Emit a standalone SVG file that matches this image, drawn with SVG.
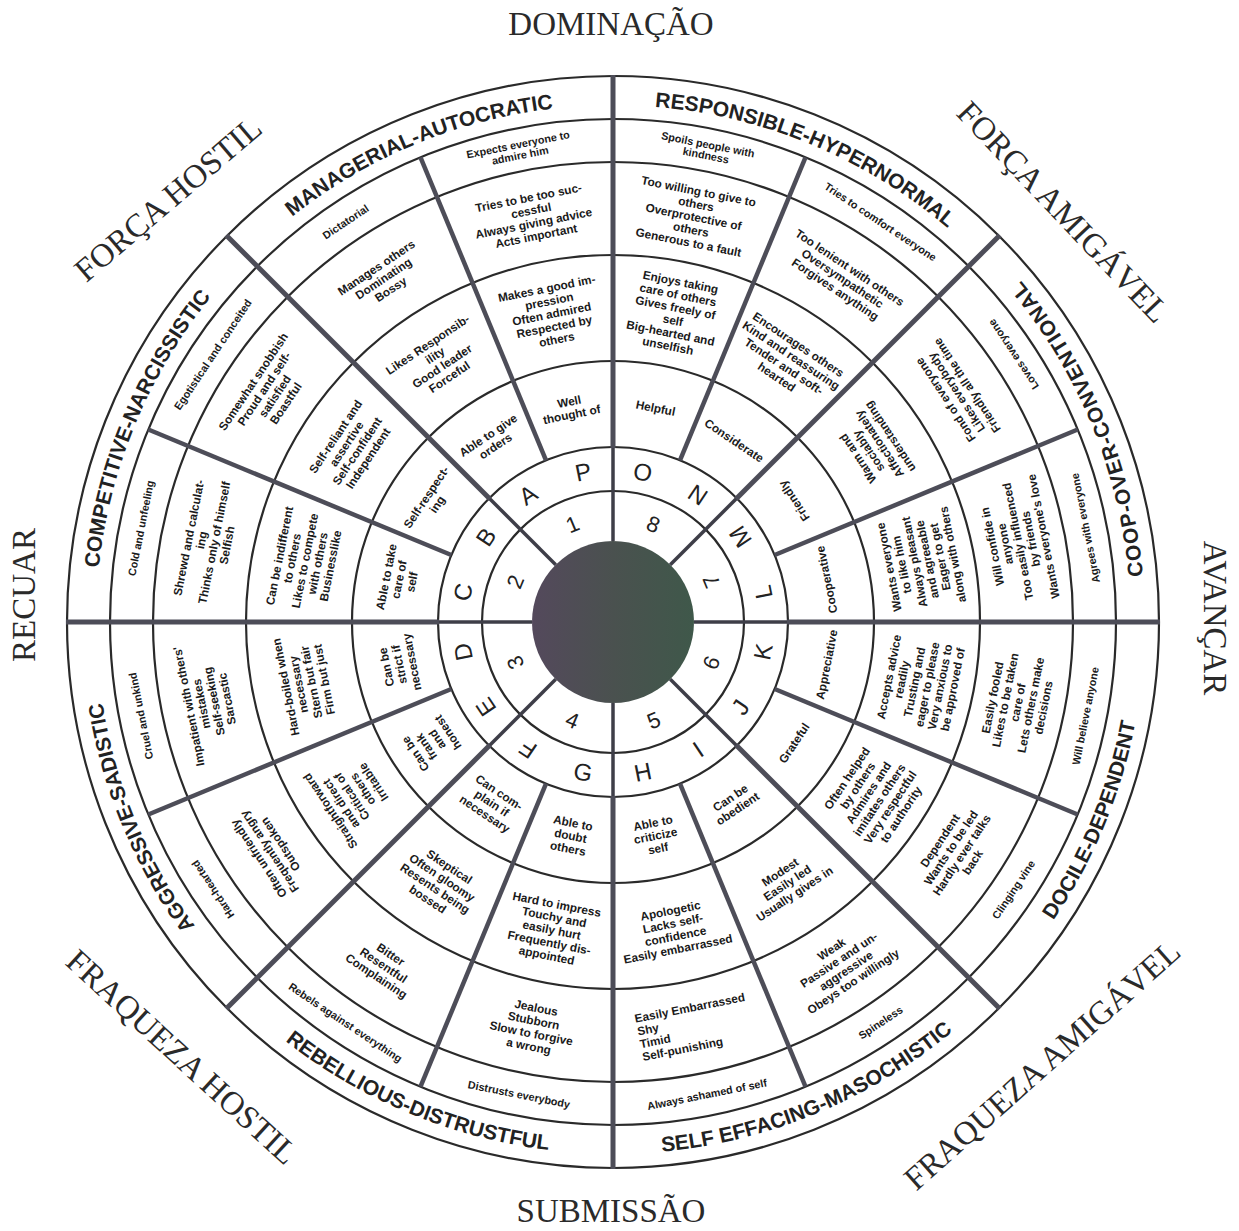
<svg xmlns="http://www.w3.org/2000/svg" xmlns:xlink="http://www.w3.org/1999/xlink" width="1239" height="1231" viewBox="0 0 1239 1231">
<style>
.ring{fill:none;stroke:#2a2a2a;stroke-width:2.2}
.oi{stroke:#3e3e48;stroke-width:3.5}
.oo{stroke:#4d4d58;stroke-width:5}
.sl{stroke:#4d4d58;stroke-width:4.5}
.t{font-family:"Liberation Sans",Arial,sans-serif;font-weight:bold;font-size:11.8px;fill:#1a1a1a;text-anchor:middle}
.t4{font-size:10.8px}
.L{font-family:"Liberation Sans",Arial,sans-serif;font-size:24px;fill:#222;text-anchor:middle}
.N{font-family:"Liberation Sans",Arial,sans-serif;font-size:22px;fill:#222;text-anchor:middle}
.oct{font-family:"Liberation Sans",Arial,sans-serif;font-weight:bold;font-size:21px;fill:#222}
.pt{font-family:"Liberation Serif","Times New Roman",serif;font-size:33px;fill:#2a2a2a;text-anchor:middle}
</style>
<defs>
<linearGradient id="dk" x1="0" y1="0" x2="1" y2="0">
<stop offset="0" stop-color="#54495c"/>
<stop offset="0.5" stop-color="#4a514f"/>
<stop offset="1" stop-color="#3f584a"/>
</linearGradient>
<path id="arcT" d="M165.3 363.5 A517 517 0 0 1 1060.7 363.5"/>
<path id="arcB" d="M152.3 888 A532 532 0 0 0 1073.7 888"/>
</defs>
<rect width="1239" height="1231" fill="#fff"/>

<g id="rings" transform="translate(613 622)">
<circle class="ring" r="546"/>
<circle class="ring" r="503"/>
<circle class="ring" r="460"/>
<circle class="ring" r="367"/>
<circle class="ring" r="261"/>
<circle class="ring" r="175" stroke-width="3"/>
<circle class="ring" r="131" stroke-width="2.5"/>
<circle r="81" fill="url(#dk)"/>
</g>

<g id="connectors" transform="translate(613 622)">
<line class="oi" y1="-81" y2="-175" transform="rotate(0)"/>
<line class="oi" y1="-81" y2="-175" transform="rotate(45)"/>
<line class="oi" y1="-81" y2="-175" transform="rotate(90)"/>
<line class="oi" y1="-81" y2="-175" transform="rotate(135)"/>
<line class="oi" y1="-81" y2="-175" transform="rotate(180)"/>
<line class="oi" y1="-81" y2="-175" transform="rotate(225)"/>
<line class="oi" y1="-81" y2="-175" transform="rotate(270)"/>
<line class="oi" y1="-81" y2="-175" transform="rotate(315)"/>
<line class="oo" y1="-174" y2="-547" transform="rotate(0)"/>
<line class="oo" y1="-174" y2="-547" transform="rotate(45)"/>
<line class="oo" y1="-174" y2="-547" transform="rotate(90)"/>
<line class="oo" y1="-174" y2="-547" transform="rotate(135)"/>
<line class="oo" y1="-174" y2="-547" transform="rotate(180)"/>
<line class="oo" y1="-174" y2="-547" transform="rotate(225)"/>
<line class="oo" y1="-174" y2="-547" transform="rotate(270)"/>
<line class="oo" y1="-174" y2="-547" transform="rotate(315)"/>
<line class="sl" y1="-175" y2="-503" transform="rotate(22.5)"/>
<line class="sl" y1="-175" y2="-503" transform="rotate(67.5)"/>
<line class="sl" y1="-175" y2="-503" transform="rotate(112.5)"/>
<line class="sl" y1="-175" y2="-503" transform="rotate(157.5)"/>
<line class="sl" y1="-175" y2="-503" transform="rotate(202.5)"/>
<line class="sl" y1="-175" y2="-503" transform="rotate(247.5)"/>
<line class="sl" y1="-175" y2="-503" transform="rotate(292.5)"/>
<line class="sl" y1="-175" y2="-503" transform="rotate(337.5)"/>
</g>

<g id="numbers" transform="translate(613 622)">
<g id="num-1" transform="rotate(-22.5) translate(0 -106)"><text class="N" y="8">1</text></g>
<g id="num-2" transform="rotate(-67.5) translate(0 -106)"><text class="N" y="8">2</text></g>
<g id="num-3" transform="rotate(-112.5) translate(0 -106)"><text class="N" y="8">3</text></g>
<g id="num-4" transform="rotate(22.5) translate(0 106)"><text class="N" y="8">4</text></g>
<g id="num-5" transform="rotate(-22.5) translate(0 106)"><text class="N" y="8">5</text></g>
<g id="num-6" transform="rotate(-67.5) translate(0 106)"><text class="N" y="8">6</text></g>
<g id="num-7" transform="rotate(-112.5) translate(0 106)"><text class="N" y="8">7</text></g>
<g id="num-8" transform="rotate(22.5) translate(0 -106)"><text class="N" y="8">8</text></g>
</g>

<g id="sectors" transform="translate(613 622)">
<g id="sector-A">
<g transform="rotate(-33.75) translate(0 -153)"><text class="L" y="8.5">A</text></g>
<g transform="rotate(-33.75) translate(0 -218)"><text class="t"><tspan x="0" y="-2.5">Able to give</tspan><tspan x="0" y="10.5">orders</tspan></text></g>
<g transform="rotate(-33.75) translate(0 -314)"><text class="t"><tspan x="0" y="-15.5">Likes Responsib-</tspan><tspan x="0" y="-2.5">ility</tspan><tspan x="0" y="10.5">Good leader</tspan><tspan x="0" y="23.5">Forceful</tspan></text></g>
<g transform="rotate(-33.75) translate(0 -413)"><text class="t"><tspan x="0" y="-9">Manages others</tspan><tspan x="0" y="4">Dominating</tspan><tspan x="0" y="17">Bossy</tspan></text></g>
<g transform="rotate(-33.75) translate(0 -481.5)"><text class="t t4" y="4">Dictatorial</text></g>
</g>
<g id="sector-P">
<g transform="rotate(-11.25) translate(0 -153)"><text class="L" y="8.5">P</text></g>
<g transform="rotate(-11.25) translate(0 -218)"><text class="t"><tspan x="0" y="-2.5">Well</tspan><tspan x="0" y="10.5">thought of</tspan></text></g>
<g transform="rotate(-11.25) translate(0 -314)"><text class="t"><tspan x="0" y="-22">Makes a good im-</tspan><tspan x="0" y="-9">pression</tspan><tspan x="0" y="4">Often admired</tspan><tspan x="0" y="17">Respected by</tspan><tspan x="0" y="30">others</tspan></text></g>
<g transform="rotate(-11.25) translate(0 -413)"><text class="t"><tspan x="0" y="-15.5">Tries to be too suc-</tspan><tspan x="0" y="-2.5">cessful</tspan><tspan x="0" y="10.5">Always giving advice</tspan><tspan x="0" y="23.5">Acts important</tspan></text></g>
<g transform="rotate(-11.25) translate(0 -481.5)"><text class="t t4"><tspan x="0" y="-1.5">Expects everyone to</tspan><tspan x="0" y="9.5">admire him</tspan></text></g>
</g>
<g id="sector-O">
<g transform="rotate(11.25) translate(0 -153)"><text class="L" y="8.5">O</text></g>
<g transform="rotate(11.25) translate(0 -218)"><text class="t" y="4">Helpful</text></g>
<g transform="rotate(11.25) translate(0 -314)"><text class="t"><tspan x="0" y="-28.5">Enjoys taking</tspan><tspan x="0" y="-15.5">care of others</tspan><tspan x="0" y="-2.5">Gives freely of</tspan><tspan x="0" y="10.5">self</tspan><tspan x="0" y="23.5">Big-hearted and</tspan><tspan x="0" y="36.5">unselfish</tspan></text></g>
<g transform="rotate(11.25) translate(0 -413)"><text class="t"><tspan x="0" y="-22">Too willing to give to</tspan><tspan x="0" y="-9">others</tspan><tspan x="0" y="4">Overprotective of</tspan><tspan x="0" y="17">others</tspan><tspan x="0" y="30">Generous to a fault</tspan></text></g>
<g transform="rotate(11.25) translate(0 -481.5)"><text class="t t4"><tspan x="0" y="-1.5">Spoils people with</tspan><tspan x="0" y="9.5">kindness</tspan></text></g>
</g>
<g id="sector-N">
<g transform="rotate(33.75) translate(0 -153)"><text class="L" y="8.5">N</text></g>
<g transform="rotate(33.75) translate(0 -218)"><text class="t" y="4">Considerate</text></g>
<g transform="rotate(33.75) translate(0 -314)"><text class="t"><tspan x="0" y="-15.5">Encourages others</tspan><tspan x="0" y="-2.5">Kind and reassuring</tspan><tspan x="0" y="10.5">Tender and soft-</tspan><tspan x="0" y="23.5">hearted</tspan></text></g>
<g transform="rotate(33.75) translate(0 -413)"><text class="t"><tspan x="0" y="-9">Too lenient with others</tspan><tspan x="0" y="4">Oversympathetic</tspan><tspan x="0" y="17">Forgives anything</tspan></text></g>
<g transform="rotate(33.75) translate(0 -481.5)"><text class="t t4" y="4">Tries to comfort everyone</text></g>
</g>
<g id="sector-M">
<g transform="rotate(-123.75) translate(0 153)"><text class="L" y="8.5">M</text></g>
<g transform="rotate(-123.75) translate(0 218)"><text class="t" y="4">Friendly</text></g>
<g transform="rotate(-123.75) translate(0 314)"><text class="t"><tspan x="0" y="-15.5">Warm and</tspan><tspan x="0" y="-2.5">sociably</tspan><tspan x="0" y="10.5">Affectionately</tspan><tspan x="0" y="23.5">understanding</tspan></text></g>
<g transform="rotate(-123.75) translate(0 413)"><text class="t"><tspan x="0" y="-9">Fond of everyone</tspan><tspan x="0" y="4">Likes everybody</tspan><tspan x="0" y="17">Friendly all the time</tspan></text></g>
<g transform="rotate(-123.75) translate(0 481.5)"><text class="t t4" y="4">Loves everyone</text></g>
</g>
<g id="sector-L">
<g transform="rotate(-101.25) translate(0 153)"><text class="L" y="8.5">L</text></g>
<g transform="rotate(-101.25) translate(0 218)"><text class="t" y="4">Cooperative</text></g>
<g transform="rotate(-101.25) translate(0 314)"><text class="t"><tspan x="0" y="-28.5">Wants everyone</tspan><tspan x="0" y="-15.5">to like him</tspan><tspan x="0" y="-2.5">Always pleasant</tspan><tspan x="0" y="10.5">and agreeable</tspan><tspan x="0" y="23.5">Eager to get</tspan><tspan x="0" y="36.5">along with others</tspan></text></g>
<g transform="rotate(-101.25) translate(0 413)"><text class="t"><tspan x="0" y="-22">Will confide in</tspan><tspan x="0" y="-9">anyone</tspan><tspan x="0" y="4">Too easily influenced</tspan><tspan x="0" y="17">by friends</tspan><tspan x="0" y="30">Wants everyone's love</tspan></text></g>
<g transform="rotate(-101.25) translate(0 481.5)"><text class="t t4" y="4">Agrees with everyone</text></g>
</g>
<g id="sector-K">
<g transform="rotate(-78.75) translate(0 153)"><text class="L" y="8.5">K</text></g>
<g transform="rotate(-78.75) translate(0 218)"><text class="t" y="4">Appreciative</text></g>
<g transform="rotate(-78.75) translate(0 314)"><text class="t"><tspan x="0" y="-28.5">Accepts advice</tspan><tspan x="0" y="-15.5">readily</tspan><tspan x="0" y="-2.5">Trusting and</tspan><tspan x="0" y="10.5">eager to please</tspan><tspan x="0" y="23.5">Very anxious to</tspan><tspan x="0" y="36.5">be approved of</tspan></text></g>
<g transform="rotate(-78.75) translate(0 413)"><text class="t"><tspan x="0" y="-22">Easily fooled</tspan><tspan x="0" y="-9">Likes to be taken</tspan><tspan x="0" y="4">care of</tspan><tspan x="0" y="17">Lets others make</tspan><tspan x="0" y="30">decisions</tspan></text></g>
<g transform="rotate(-78.75) translate(0 481.5)"><text class="t t4" y="4">Will believe anyone</text></g>
</g>
<g id="sector-J">
<g transform="rotate(-56.25) translate(0 153)"><text class="L" y="8.5">J</text></g>
<g transform="rotate(-56.25) translate(0 218)"><text class="t" y="4">Grateful</text></g>
<g transform="rotate(-56.25) translate(0 314)"><text class="t"><tspan x="0" y="-28.5">Often helped</tspan><tspan x="0" y="-15.5">by others</tspan><tspan x="0" y="-2.5">Admires and</tspan><tspan x="0" y="10.5">imitates others</tspan><tspan x="0" y="23.5">Very respectful</tspan><tspan x="0" y="36.5">to authority</tspan></text></g>
<g transform="rotate(-56.25) translate(0 413)"><text class="t"><tspan x="0" y="-15.5">Dependent</tspan><tspan x="0" y="-2.5">Wants to be led</tspan><tspan x="0" y="10.5">Hardly ever talks</tspan><tspan x="0" y="23.5">back</tspan></text></g>
<g transform="rotate(-56.25) translate(0 481.5)"><text class="t t4" y="4">Clinging vine</text></g>
</g>
<g id="sector-I">
<g transform="rotate(-33.75) translate(0 153)"><text class="L" y="8.5">I</text></g>
<g transform="rotate(-33.75) translate(0 218)"><text class="t"><tspan x="0" y="-2.5">Can be</tspan><tspan x="0" y="10.5">obedient</tspan></text></g>
<g transform="rotate(-33.75) translate(0 314)"><text class="t"><tspan x="0" y="-9">Modest</tspan><tspan x="0" y="4">Easily led</tspan><tspan x="0" y="17">Usually gives in</tspan></text></g>
<g transform="rotate(-33.75) translate(0 413)"><text class="t"><tspan x="0" y="-15.5">Weak</tspan><tspan x="0" y="-2.5">Passive and un-</tspan><tspan x="0" y="10.5">aggressive</tspan><tspan x="0" y="23.5">Obeys too willingly</tspan></text></g>
<g transform="rotate(-33.75) translate(0 481.5)"><text class="t t4" y="4">Spineless</text></g>
</g>
<g id="sector-H">
<g transform="rotate(-11.25) translate(0 153)"><text class="L" y="8.5">H</text></g>
<g transform="rotate(-11.25) translate(0 218)"><text class="t"><tspan x="0" y="-9">Able to</tspan><tspan x="0" y="4">criticize</tspan><tspan x="0" y="17">self</tspan></text></g>
<g transform="rotate(-11.25) translate(0 314)"><text class="t"><tspan x="0" y="-15.5">Apologetic</tspan><tspan x="0" y="-2.5">Lacks self-</tspan><tspan x="0" y="10.5">confidence</tspan><tspan x="0" y="23.5">Easily embarrassed</tspan></text></g>
<g transform="rotate(-11.25) translate(0 413)"><text class="t" style="text-anchor:start"><tspan x="-56" y="-15.5">Easily Embarrassed</tspan><tspan x="-56" y="-2.5">Shy</tspan><tspan x="-56" y="10.5">Timid</tspan><tspan x="-56" y="23.5">Self-punishing</tspan></text></g>
<g transform="rotate(-11.25) translate(0 481.5)"><text class="t t4" y="4">Always ashamed of self</text></g>
</g>
<g id="sector-G">
<g transform="rotate(11.25) translate(0 153)"><text class="L" y="8.5">G</text></g>
<g transform="rotate(11.25) translate(0 218)"><text class="t"><tspan x="0" y="-9">Able to</tspan><tspan x="0" y="4">doubt</tspan><tspan x="0" y="17">others</tspan></text></g>
<g transform="rotate(11.25) translate(0 314)"><text class="t"><tspan x="0" y="-22">Hard to impress</tspan><tspan x="0" y="-9">Touchy and</tspan><tspan x="0" y="4">easily hurt</tspan><tspan x="0" y="17">Frequently dis-</tspan><tspan x="0" y="30">appointed</tspan></text></g>
<g transform="rotate(11.25) translate(0 413)"><text class="t"><tspan x="0" y="-15.5">Jealous</tspan><tspan x="0" y="-2.5">Stubborn</tspan><tspan x="0" y="10.5">Slow to forgive</tspan><tspan x="0" y="23.5">a wrong</tspan></text></g>
<g transform="rotate(11.25) translate(0 481.5)"><text class="t t4" y="4">Distrusts everybody</text></g>
</g>
<g id="sector-F">
<g transform="rotate(-146.25) translate(0 -153)"><text class="L" y="8.5">F</text></g>
<g transform="rotate(33.75) translate(0 218)"><text class="t"><tspan x="0" y="-9">Can com-</tspan><tspan x="0" y="4">plain if</tspan><tspan x="0" y="17">necessary</tspan></text></g>
<g transform="rotate(33.75) translate(0 314)"><text class="t"><tspan x="0" y="-15.5">Skeptical</tspan><tspan x="0" y="-2.5">Often gloomy</tspan><tspan x="0" y="10.5">Resents being</tspan><tspan x="0" y="23.5">bossed</tspan></text></g>
<g transform="rotate(33.75) translate(0 413)"><text class="t"><tspan x="0" y="-9">Bitter</tspan><tspan x="0" y="4">Resentful</tspan><tspan x="0" y="17">Complaining</tspan></text></g>
<g transform="rotate(33.75) translate(0 481.5)"><text class="t t4" y="4">Rebels against everything</text></g>
</g>
<g id="sector-E">
<g transform="rotate(-123.75) translate(0 -153)"><text class="L" y="8.5">E</text></g>
<g transform="rotate(-123.75) translate(0 -218)"><text class="t"><tspan x="0" y="-15.5">Can be</tspan><tspan x="0" y="-2.5">frank</tspan><tspan x="0" y="10.5">and</tspan><tspan x="0" y="23.5">honest</tspan></text></g>
<g transform="rotate(-123.75) translate(0 -314)"><text class="t"><tspan x="0" y="-22">Straightforward</tspan><tspan x="0" y="-9">and direct</tspan><tspan x="0" y="4">Critical of</tspan><tspan x="0" y="17">others</tspan><tspan x="0" y="30">Irritable</tspan></text></g>
<g transform="rotate(-123.75) translate(0 -413)"><text class="t"><tspan x="0" y="-9">Often unfriendly</tspan><tspan x="0" y="4">Frequently angry</tspan><tspan x="0" y="17">Outspoken</tspan></text></g>
<g transform="rotate(-123.75) translate(0 -481.5)"><text class="t t4" y="4">Hard-hearted</text></g>
</g>
<g id="sector-D">
<g transform="rotate(-101.25) translate(0 -153)"><text class="L" y="8.5">D</text></g>
<g transform="rotate(-101.25) translate(0 -218)"><text class="t"><tspan x="0" y="-9">Can be</tspan><tspan x="0" y="4">strict if</tspan><tspan x="0" y="17">necessary</tspan></text></g>
<g transform="rotate(-101.25) translate(0 -314)"><text class="t"><tspan x="0" y="-15.5">Hard-boiled when</tspan><tspan x="0" y="-2.5">necessary</tspan><tspan x="0" y="10.5">Stern but fair</tspan><tspan x="0" y="23.5">Firm but just</tspan></text></g>
<g transform="rotate(-101.25) translate(0 -413)"><text class="t"><tspan x="0" y="-15.5">Impatient with others'</tspan><tspan x="0" y="-2.5">mistakes</tspan><tspan x="0" y="10.5">Self-seeking</tspan><tspan x="0" y="23.5">Sarcastic</tspan></text></g>
<g transform="rotate(-101.25) translate(0 -481.5)"><text class="t t4" y="4">Cruel and unkind</text></g>
</g>
<g id="sector-C">
<g transform="rotate(-78.75) translate(0 -153)"><text class="L" y="8.5">C</text></g>
<g transform="rotate(-78.75) translate(0 -218)"><text class="t"><tspan x="0" y="-9">Able to take</tspan><tspan x="0" y="4">care of</tspan><tspan x="0" y="17">self</tspan></text></g>
<g transform="rotate(-78.75) translate(0 -314)"><text class="t"><tspan x="0" y="-22">Can be indifferent</tspan><tspan x="0" y="-9">to others</tspan><tspan x="0" y="4">Likes to compete</tspan><tspan x="0" y="17">with others</tspan><tspan x="0" y="30">Businesslike</tspan></text></g>
<g transform="rotate(-78.75) translate(0 -413)"><text class="t"><tspan x="0" y="-15.5">Shrewd and calculat-</tspan><tspan x="0" y="-2.5">ing</tspan><tspan x="0" y="10.5">Thinks only of himself</tspan><tspan x="0" y="23.5">Selfish</tspan></text></g>
<g transform="rotate(-78.75) translate(0 -481.5)"><text class="t t4" y="4">Cold and unfeeling</text></g>
</g>
<g id="sector-B">
<g transform="rotate(-56.25) translate(0 -153)"><text class="L" y="8.5">B</text></g>
<g transform="rotate(-56.25) translate(0 -218)"><text class="t"><tspan x="0" y="-2.5">Self-respect-</tspan><tspan x="0" y="10.5">ing</tspan></text></g>
<g transform="rotate(-56.25) translate(0 -314)"><text class="t"><tspan x="0" y="-15.5">Self-reliant and</tspan><tspan x="0" y="-2.5">assertive</tspan><tspan x="0" y="10.5">Self-confident</tspan><tspan x="0" y="23.5">Independent</tspan></text></g>
<g transform="rotate(-56.25) translate(0 -413)"><text class="t"><tspan x="0" y="-15.5">Somewhat snobbish</tspan><tspan x="0" y="-2.5">Proud and self-</tspan><tspan x="0" y="10.5">satisfied</tspan><tspan x="0" y="23.5">Boastful</tspan></text></g>
<g transform="rotate(-56.25) translate(0 -481.5)"><text class="t t4" y="4">Egotistical and conceited</text></g>
</g>
</g>

<g id="octants">
<text id="oct-managerial" class="oct" transform="rotate(-22.5 613 622)"><textPath xlink:href="#arcT" startOffset="50%" text-anchor="middle">MANAGERIAL-AUTOCRATIC</textPath></text>
<text id="oct-responsible" class="oct" transform="rotate(22.5 613 622)"><textPath xlink:href="#arcT" startOffset="50%" text-anchor="middle">RESPONSIBLE-HYPERNORMAL</textPath></text>
<text id="oct-competitive" class="oct" transform="rotate(-67.5 613 622)"><textPath xlink:href="#arcT" startOffset="50%" text-anchor="middle">COMPETITIVE-NARCISSISTIC</textPath></text>
<text id="oct-aggressive" class="oct" transform="rotate(-112.5 613 622)"><textPath xlink:href="#arcT" startOffset="50%" text-anchor="middle">AGGRESSIVE-SADISTIC</textPath></text>
<text id="oct-rebellious" class="oct" transform="rotate(22.5 613 622)"><textPath xlink:href="#arcB" startOffset="50%" text-anchor="middle">REBELLIOUS-DISTRUSTFUL</textPath></text>
<text id="oct-self" class="oct" transform="rotate(-22.5 613 622)"><textPath xlink:href="#arcB" startOffset="50%" text-anchor="middle">SELF EFFACING-MASOCHISTIC</textPath></text>
<text id="oct-docile" class="oct" transform="rotate(-67.5 613 622)"><textPath xlink:href="#arcB" startOffset="50%" text-anchor="middle">DOCILE-DEPENDENT</textPath></text>
<text id="oct-coop" class="oct" transform="rotate(-112.5 613 622)" letter-spacing="1"><textPath xlink:href="#arcB" startOffset="50%" text-anchor="middle">COOP-OVER-CONVENTIONAL</textPath></text>
</g>

<g id="axes">
<text id="dominacao" class="pt" x="611" y="35">DOMINAÇÃO</text>
<text id="submissao" class="pt" x="611" y="1222">SUBMISSÃO</text>
<text id="recuar" class="pt" font-size="31" transform="translate(35 595) rotate(-90)">RECUAR</text>
<text id="avancar" class="pt" font-size="31" transform="translate(1204 618) rotate(90)">AVANÇAR</text>
<text id="forca-hostil" class="pt" transform="translate(168 199) rotate(-40.5)" y="11">FORÇA HOSTIL</text>
<text id="forca-amigavel" class="pt" transform="translate(1063 212) rotate(46.5)" y="11">FORÇA AMIGÁVEL</text>
<text id="fraqueza-hostil" class="pt" transform="translate(182 1057) rotate(42.5)" y="11">FRAQUEZA HOSTIL</text>
<text id="fraqueza-amigavel" class="pt" transform="translate(1042 1065) rotate(-41.7)" y="11">FRAQUEZA AMIGÁVEL</text>
</g>
</svg>
